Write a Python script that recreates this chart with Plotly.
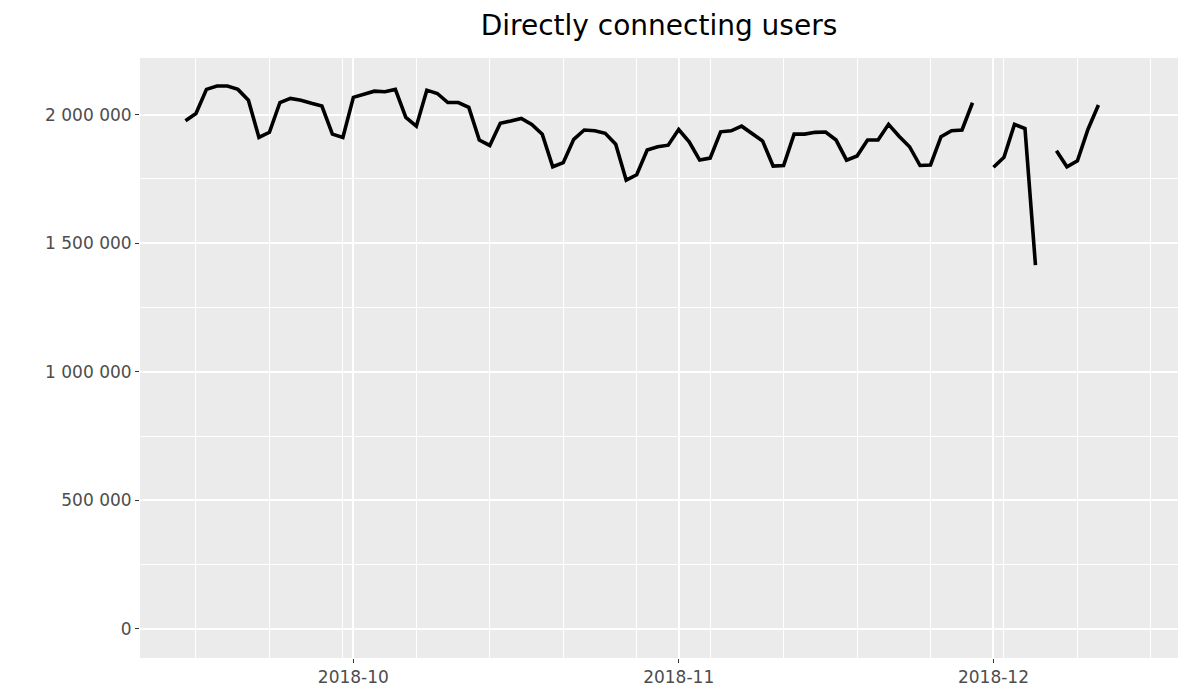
import plotly.graph_objects as go
import pandas as pd

# Daily dates from 2018-09-15 to 2018-12-11 (None = missing day)
dates = pd.date_range("2018-09-15", "2018-12-11", freq="D").strftime("%Y-%m-%d").tolist()

users = [
    1976000, 2004000, 2098000, 2111000, 2111000, 2098000, 2056000, 1911000,   # Sep 15-22
    1931000, 2047000, 2063000, 2056000, 2044000, 2033000, 1924000, 1911000,   # Sep 23-30
    2067000, 2080000, 2091000, 2089000, 2098000, 1989000, 1955000,            # Oct 1-7
    2095000, 2082000, 2047000, 2047000, 2028000, 1901000, 1880000,            # Oct 8-14
    1966000, 1975000, 1985000, 1962000, 1924000, 1797000, 1813000,            # Oct 15-21
    1904000, 1940000, 1937000, 1927000, 1885000, 1745000, 1766000,            # Oct 22-28
    1862000, 1875000, 1881000,                                                # Oct 29-31
    1942000, 1894000, 1823000, 1831000,                                       # Nov 1-4
    1933000, 1937000, 1955000, 1924000, 1897000, 1800000, 1802000,            # Nov 5-11
    1924000, 1924000, 1931000, 1932000, 1901000, 1823000, 1839000,            # Nov 12-18
    1901000, 1901000, 1962000, 1916000, 1875000, 1802000, 1804000,            # Nov 19-25
    1914000, 1937000, 1940000, 2046000, None,                                 # Nov 26-30
    1795000, 1834000, 1962000, 1946000, 1415000, None,                        # Dec 1-6
    1859000, 1797000, 1820000, 1942000, 2037000,                              # Dec 7-11
]

x_tick_vals = ["2018-10-01", "2018-11-01", "2018-12-01"]
x_tick_text = ["2018-10", "2018-11", "2018-12"]
y_tick_vals = [0, 500000, 1000000, 1500000, 2000000]
y_tick_text = ["0", "500 000", "1 000 000", "1 500 000", "2 000 000"]
title_text = "Directly connecting users"

# The page body adds an 8px offset, so the figure is sized to fit the window.
W, H = 1192, 692
ML, MR, MT, MB = 132, 22, 50, 42

fig = go.Figure()
fig.add_trace(go.Scatter(
    x=dates, y=users, mode="lines",
    line=dict(color="black", width=3.6),
    connectgaps=False, showlegend=False,
))

fig.update_layout(
    width=W, height=H,
    paper_bgcolor="white", plot_bgcolor="#EBEBEB",
    margin=dict(l=ML, r=MR, t=MT, b=MB),
    font=dict(family="DejaVu Sans", color="#4D4D4D"),
    title=dict(text=title_text, x=(ML + (W - MR)) / 2 / W, xanchor="center",
               y=1 - 17 / H, yanchor="middle",
               font=dict(size=28, color="black", family="DejaVu Sans")),
)

fig.update_xaxes(
    type="date",
    range=["2018-09-10 16:00", "2018-12-18 14:00"],
    tickmode="array", tickvals=x_tick_vals, ticktext=x_tick_text,
    ticks="outside", ticklen=4, tickwidth=1.2, tickcolor="#333333",
    tickfont=dict(size=17, color="#4D4D4D"),
    showgrid=True, gridcolor="white", gridwidth=2.2,
    zeroline=False, showline=False,
    minor=dict(tick0="2018-09-16", dtick=7 * 86400000, showgrid=True,
               gridcolor="white", gridwidth=1.1, ticks=""),
)

fig.update_yaxes(
    range=[-112800, 2220000],
    tickmode="array", tickvals=y_tick_vals, ticktext=y_tick_text,
    ticks="outside", ticklen=4, tickwidth=1.2, tickcolor="#333333",
    tickfont=dict(size=17, color="#4D4D4D"),
    showgrid=True, gridcolor="white", gridwidth=2.2,
    zeroline=False, showline=False,
    minor=dict(tickvals=[250000, 750000, 1250000, 1750000], showgrid=True,
               gridcolor="white", gridwidth=1.1, ticks=""),
)

fig.write_html("out.html")
